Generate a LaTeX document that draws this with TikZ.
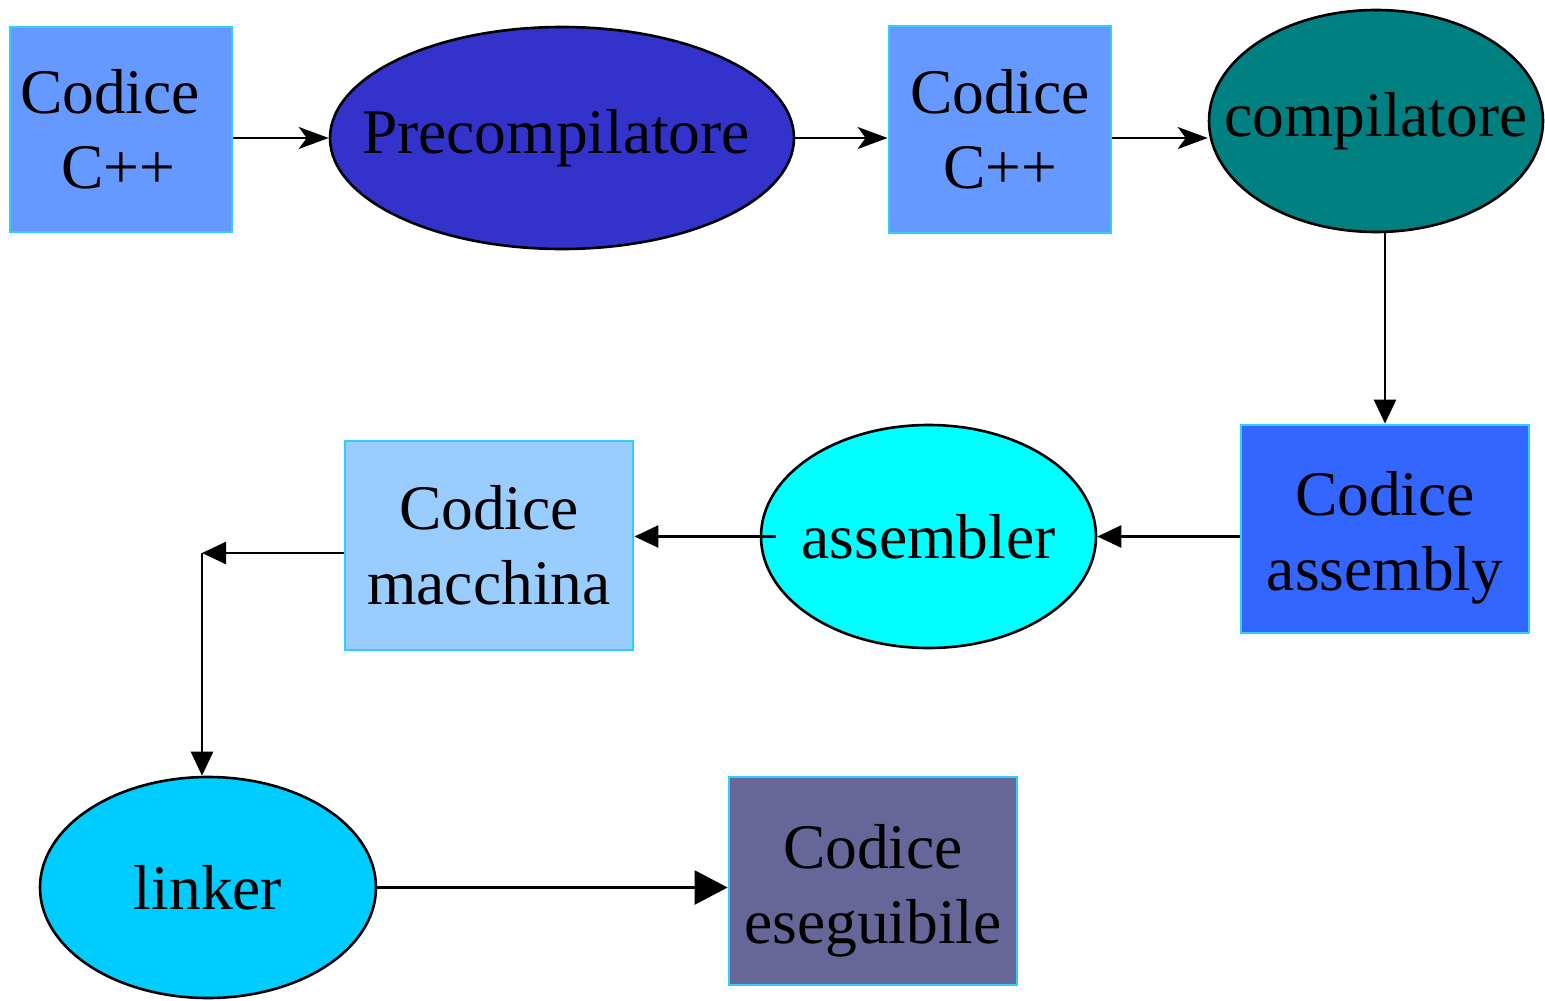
\documentclass[tikz,border=0pt]{standalone}
\usepackage{fontspec}
\setmainfont{Liberation Serif}
\usetikzlibrary{arrows.meta,shapes.geometric}
\definecolor{cbox}{HTML}{6699FF}
\definecolor{cpre}{HTML}{3333CC}
\definecolor{ccomp}{HTML}{008080}
\definecolor{casm}{HTML}{3366FF}
\definecolor{casmr}{HTML}{00FFFF}
\definecolor{cmac}{HTML}{99CCFF}
\definecolor{clink}{HTML}{00CCFF}
\definecolor{cese}{HTML}{666699}
\definecolor{cedge}{HTML}{33CCFF}
\newcommand{\lowtext}[2]{\raisebox{#1}[\height][\depth]{\begin{tabular}{@{}c@{}}#2\end{tabular}}}
\newcommand{\ovtext}[1]{\makebox[0pt][c]{#1}}
\begin{document}
\begin{tikzpicture}[x=0.5pt,y=-0.5pt,
  lbl/.style={inner sep=0pt,align=center,font=\fontsize{31.75}{37.5}\selectfont},
  box/.style={lbl,rectangle,draw=cedge,line width=1.4pt},
  oval/.style={lbl,ellipse,draw=black,line width=1.3pt},
  conn/.style={line width=1.3pt},
  stl/.style={conn,-{Stealth[length=15pt,width=11pt,inset=4pt]}},
  tri/.style={conn,-{Triangle[length=12pt,width=11pt]}},
  bigtri/.style={conn,-{Triangle[length=16.5pt,width=17pt]}}]
\useasboundingbox (0,0) rectangle (1545,1000);

\node[box,fill=cbox,minimum width=111pt,minimum height=102.5pt] (cpp1) at (121,129.5) {Codice\hspace*{11pt}\\C++\hspace*{2.5pt}};
\node[oval,fill=cpre,minimum width=232pt,minimum height=111pt] (pre) at (562,138) {\ovtext{Precompilatore\hspace*{6pt}}};
\node[box,fill=cbox,minimum width=111pt,minimum height=103.5pt] (cpp2) at (1000,129.5) {Codice\\C++};
\node[oval,fill=ccomp,minimum width=167pt,minimum height=111pt] (comp) at (1376,121) {\ovtext{compilatore}};
\node[box,fill=casm,minimum width=144pt,minimum height=104pt] (asm) at (1385,529) {\lowtext{-4.5pt}{Codice\\assembly}};
\node[oval,fill=casmr,minimum width=167.5pt,minimum height=111.5pt] (asmr) at (928.5,536.5) {\ovtext{assembler}};
\node[box,fill=cmac,minimum width=144pt,minimum height=104.5pt] (mac) at (489,545.5) {Codice\\macchina};
\node[oval,fill=clink,minimum width=168pt,minimum height=110.5pt] (link) at (208,887.5) {\ovtext{linker}};
\node[box,fill=cese,minimum width=144pt,minimum height=104pt] (ese) at (873,881) {\lowtext{-5pt}{Codice\\eseguibile}};

\coordinate (bend) at (202,553);

\draw[stl] (cpp1.east |- pre.west) -- (pre.west);
\draw[stl] (pre.east) -- (cpp2.west |- pre.east);
\draw[stl] (cpp2.east |- pre.east) -- (comp.west |- pre.east);
\draw[tri] (comp.south -| asm.north) -- (asm.north);
\draw[tri] (asm.west |- asmr.east) -- (asmr.east);
\draw[tri] ([xshift=8pt]asmr.west) -- (mac.east |- asmr.west);
\draw[tri] (mac.west |- bend) -- (bend);
\draw[tri] (bend) -- (bend |- link.north);
\draw[bigtri] (link.east) -- (ese.west |- link.east);
\end{tikzpicture}
\end{document}
